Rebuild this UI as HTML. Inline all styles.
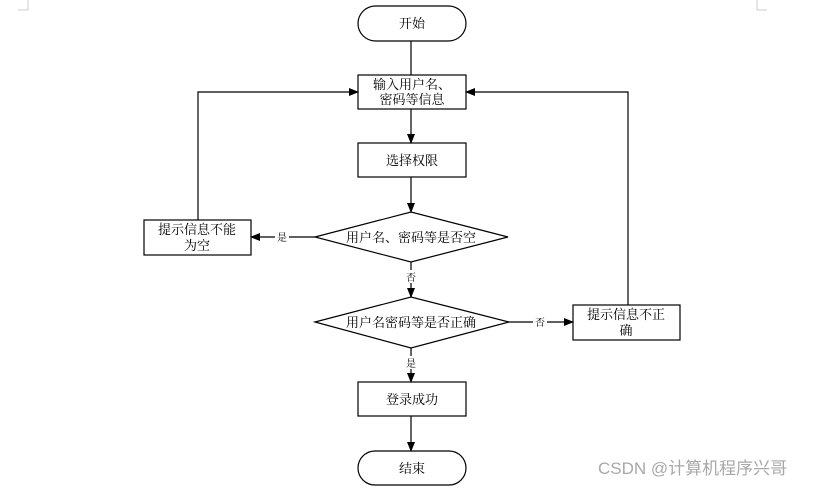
<!DOCTYPE html>
<html><head><meta charset="utf-8"><style>
body{margin:0;background:#fff;}
svg text{font-family:"Liberation Serif","Noto Serif CJK SC",serif;fill:#000;}
</style></head><body>
<svg width="825" height="490" viewBox="0 0 825 490" xmlns="http://www.w3.org/2000/svg">
<defs><marker id="a" markerWidth="10" markerHeight="8" refX="9" refY="4" orient="auto" markerUnits="userSpaceOnUse"><path d="M0,0L10,4L0,8z" fill="#000"/></marker></defs>
<g stroke="#ccc" stroke-width="1"><line x1="28" y1="0" x2="28" y2="10"/><line x1="18" y1="10" x2="28" y2="10"/><line x1="757" y1="0" x2="757" y2="10"/><line x1="757" y1="10" x2="767" y2="10"/></g>
<g fill="#fff" stroke="#000" stroke-width="1.2">
<rect x="358" y="6" width="108" height="35" rx="17.5"/>
<rect x="358" y="75" width="108" height="34"/>
<rect x="358" y="143" width="108" height="34"/>
<polygon points="315,237 411,212 508,237 411,262"/>
<rect x="144" y="220" width="107" height="35"/>
<polygon points="315,322 411,297 509,322 411,348"/>
<rect x="573" y="305" width="107" height="35"/>
<rect x="358" y="382" width="108" height="34"/>
<rect x="358" y="451" width="108" height="34" rx="17"/>
</g>
<g stroke="#000" stroke-width="1.2" fill="none">
<line x1="411" y1="41" x2="411" y2="75"/>
<line x1="411" y1="109" x2="411" y2="143" marker-end="url(#a)"/>
<line x1="411" y1="177" x2="411" y2="212" marker-end="url(#a)"/>
<line x1="315" y1="237" x2="251" y2="237" marker-end="url(#a)"/>
<polyline points="198,220 198,92 358,92" marker-end="url(#a)"/>
<line x1="411" y1="262" x2="411" y2="297" marker-end="url(#a)"/>
<line x1="509" y1="322" x2="573" y2="322" marker-end="url(#a)"/>
<polyline points="628,305 628,92 466,92" marker-end="url(#a)"/>
<line x1="411" y1="348" x2="411" y2="382" marker-end="url(#a)"/>
<line x1="411" y1="416" x2="411" y2="451" marker-end="url(#a)"/>
</g>
<g fill="#fff"><rect x="275" y="230" width="14" height="13"/><rect x="405" y="270" width="13" height="13"/><rect x="533" y="315" width="14" height="13"/><rect x="405" y="356" width="13" height="13"/></g>
<g font-size="13" text-anchor="middle">
<text x="412" y="28">开始</text>
<text x="412" y="89">输入用户名、</text>
<text x="412" y="104">密码等信息</text>
<text x="412" y="165">选择权限</text>
<text x="411" y="242">用户名、密码等是否空</text>
<text x="197" y="234">提示信息不能</text>
<text x="197" y="250">为空</text>
<text x="411" y="327">用户名密码等是否正确</text>
<text x="626" y="319">提示信息不正</text>
<text x="626" y="335">确</text>
<text x="412" y="404">登录成功</text>
<text x="412" y="473">结束</text>
</g>
<g font-size="10" text-anchor="middle">
<text x="282" y="241">是</text><text x="411" y="281">否</text><text x="540" y="326">否</text><text x="411" y="367">是</text>
</g>
<text x="598" y="474" font-size="17" style="font-family:'Liberation Sans','Noto Sans CJK SC',sans-serif;fill:#a8a8a8">CSDN @计算机程序兴哥</text>
</svg>
</body></html>
